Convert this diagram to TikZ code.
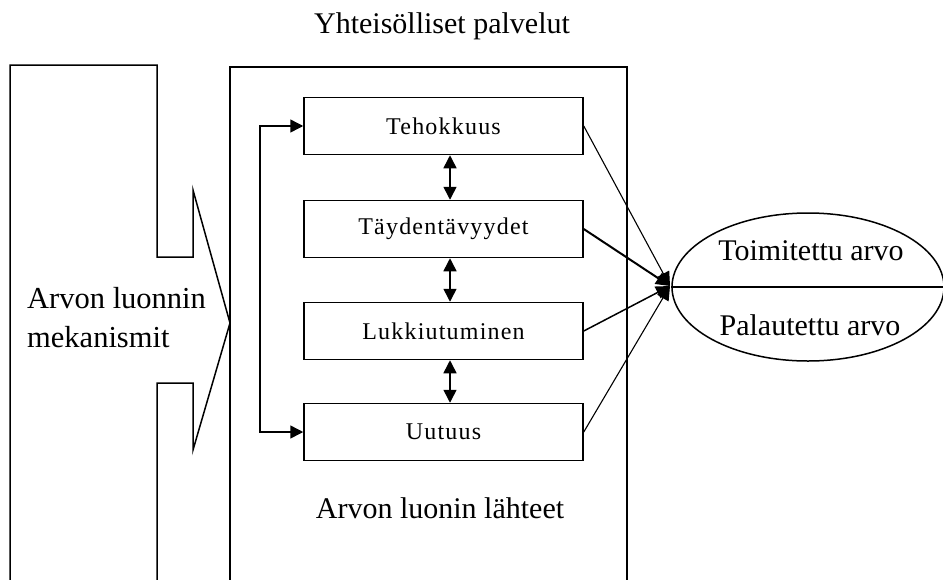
\documentclass[tikz,border=0pt]{standalone}
\usepackage{fontspec}
\setmainfont{Liberation Serif}
\usetikzlibrary{arrows.meta,shapes.geometric}
\tikzset{
  ln/.style={line width=1.5pt},
  thinln/.style={line width=1.1pt},
  tip/.style={-{Triangle[length=14pt,width=13pt]}},
  dtip/.style={{Triangle[length=13pt,width=13pt]}-{Triangle[length=13pt,width=13pt]}},
  factor/.style={draw,line width=1.5pt,minimum width=279pt,minimum height=57pt,inner sep=0pt,
    font=\fontsize{24}{28}\selectfont\addfontfeature{LetterSpace=5}},
  big/.style={font=\fontsize{30}{36}\selectfont,inner sep=0pt},
}
\begin{document}
\begin{tikzpicture}[x=1pt,y=-1pt]
\useasboundingbox (0,0) rectangle (943,579);
\clip (0,0) rectangle (943,579);
% left mechanism shape
\draw[ln] (10,585) -- (10,65) -- (157,65) -- (157,257) -- (193,257) -- (193,190)
  -- (230,323) -- (193,450) -- (193,383) -- (157,383) -- (157,585);
\node[big,anchor=west,align=left,font=\fontsize{30.5}{39}\selectfont] (mech) at (27,318) {Arvon luonnin\\mekanismit};
% middle container
\draw[ln] (230,585) -- (230,67) -- (627,67) -- (627,585);
\node[big,anchor=base] (title) at (442,33) {Yhteisölliset palvelut};
\node[big,anchor=base] (src) at (440,518) {Arvon luonin lähteet};
% factor boxes
\node[factor] (teh) at (443.5,126) {Tehokkuus};
\node[factor] (tay) at (443.5,229) {Täydentävyydet};
\node[factor] (luk) at (443.5,331) {Lukkiutuminen};
\node[factor] (uut) at (443.5,432) {Uutuus};
% double arrows between boxes
\coordinate (mx) at (450,0);
\draw[ln,dtip] (teh.south -| mx) -- (tay.north -| mx);
\draw[ln,dtip] (tay.south -| mx) -- (luk.north -| mx);
\draw[ln,dtip] (luk.south -| mx) -- (uut.north -| mx);
% bracket on the left
\coordinate (b1) at (260,126);
\coordinate (b2) at (260,432);
\draw[ln,dtip] (teh.west) -- (b1) -- (b2) -- (uut.west);
% ellipse
\node[draw,ellipse,line width=1.5pt,minimum width=272pt,minimum height=148pt,inner sep=0pt] (ell) at (808,287) {};
\draw[ln] (ell.west) -- (ell.east);
\node[big,anchor=base] (del) at (811,260) {Toimitettu arvo};
\node[big,anchor=base] (ret) at (810,335) {Palautettu arvo};
% converging arrows
\coordinate (conv) at (670,286);
\draw[thinln,tip] (teh.east) -- (conv);
\draw[line width=2pt,tip] (tay.east) -- (conv);
\draw[ln,tip] (luk.east) -- (conv);
\draw[thinln,tip] (uut.east) -- (conv);
\end{tikzpicture}
\end{document}
